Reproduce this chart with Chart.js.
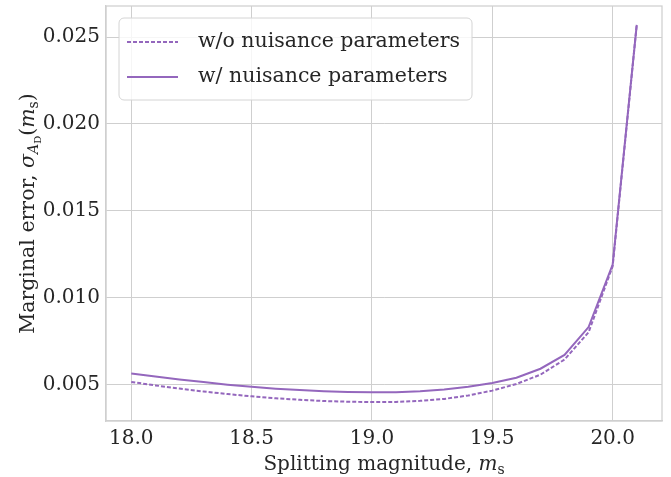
<!DOCTYPE html>
<html>
<head>
<meta charset="utf-8">
<script src="https://cdn.jsdelivr.net/npm/chart.js@4"></script>
<style>
  html, body { margin: 0; padding: 0; background: #fff; }
</style>
</head>
<body>
<canvas id="chart" width="671" height="477"></canvas>
<script>
// splitting magnitude m_s
const magnitudes = [18.0, 18.1, 18.2, 18.3, 18.4, 18.5, 18.6, 18.7, 18.8, 18.9, 19.0,
                    19.1, 19.2, 19.3, 19.4, 19.5, 19.6, 19.7, 19.8, 19.9, 20.0, 20.1];
// marginal error without nuisance parameters
const errNoNuisance = [0.00514, 0.00494, 0.00476, 0.00459, 0.00444, 0.00431, 0.00420, 0.00411,
                       0.00404, 0.00400, 0.00398, 0.00399, 0.00405, 0.00416, 0.00436, 0.00464,
                       0.00502, 0.00556, 0.00643, 0.00800, 0.01180, 0.02570];
// marginal error with nuisance parameters
const errNuisance = [0.00563, 0.00545, 0.00528, 0.00513, 0.00498, 0.00486, 0.00475, 0.00467,
                     0.00460, 0.00456, 0.00454, 0.00455, 0.00461, 0.00471, 0.00486, 0.00508,
                     0.00538, 0.00590, 0.00670, 0.00830, 0.01190, 0.02570];
const xTicks = [18.0, 18.5, 19.0, 19.5, 20.0];
const yTicks = [0.005, 0.010, 0.015, 0.020, 0.025];

const purple = '#9467bd';
const gridColor = '#cfcfcf';
const textColor = '#262626';
const serif = '"DejaVu Serif", "Liberation Serif", serif';

function drawRich(ctx, parts, x, y) {
  // parts: [text, size, italic, dy]
  let total = 0;
  parts.forEach(p => {
    ctx.font = (p[2] ? 'italic ' : '') + p[1] + 'px ' + serif;
    total += ctx.measureText(p[0]).width;
  });
  let cx = x - total / 2;
  parts.forEach(p => {
    ctx.font = (p[2] ? 'italic ' : '') + p[1] + 'px ' + serif;
    ctx.fillText(p[0], cx, y + p[3]);
    cx += ctx.measureText(p[0]).width;
  });
}

const decorPlugin = {
  id: 'decor',
  beforeDatasetsDraw(chart) {
    // frame around the plot
    const a = chart.chartArea;
    const ctx = chart.ctx;
    ctx.save();
    ctx.strokeStyle = gridColor;
    ctx.lineWidth = 1.25;
    ctx.strokeRect(a.left, a.top, a.right - a.left, a.bottom - a.top);
    ctx.restore();
  },
  afterDraw(chart) {
    const ctx = chart.ctx;
    const area = chart.chartArea;
    ctx.save();
    ctx.fillStyle = textColor;
    ctx.textBaseline = 'alphabetic';
    ctx.textAlign = 'left';

    // x axis title
    drawRich(ctx, [
      ['Splitting magnitude, ', 20, false, 0],
      ['m', 20, true, 0],
      ['s', 14, false, 4]
    ], (area.left + area.right) / 2, 470);

    // y axis title
    ctx.save();
    ctx.translate(34, (area.top + area.bottom) / 2);
    ctx.rotate(-Math.PI / 2);
    drawRich(ctx, [
      ['Marginal error, ', 20.5, false, 0],
      ['σ', 20.5, true, 0],
      ['A', 14, true, 4],
      ['D', 10, false, 7],
      ['(', 20.5, false, 0],
      ['m', 20.5, true, 0],
      ['s', 14, false, 4],
      [')', 20.5, false, 0]
    ], 0, 0);
    ctx.restore();

    // legend box
    const bx = 119, by = 18, bw = 353, bh = 82, r = 5;
    ctx.beginPath();
    ctx.moveTo(bx + r, by);
    ctx.arcTo(bx + bw, by, bx + bw, by + bh, r);
    ctx.arcTo(bx + bw, by + bh, bx, by + bh, r);
    ctx.arcTo(bx, by + bh, bx, by, r);
    ctx.arcTo(bx, by, bx + bw, by, r);
    ctx.closePath();
    ctx.fillStyle = 'rgba(255,255,255,0.8)';
    ctx.fill();
    ctx.strokeStyle = '#d4d4d4';
    ctx.lineWidth = 1;
    ctx.stroke();

    const rows = [42, 77];
    chart.data.datasets.forEach((ds, i) => {
      const ly = rows[i];
      ctx.beginPath();
      ctx.setLineDash(ds.borderDash || []);
      ctx.strokeStyle = ds.borderColor;
      ctx.lineWidth = ds.borderWidth;
      ctx.moveTo(127, ly);
      ctx.lineTo(178, ly);
      ctx.stroke();
      ctx.setLineDash([]);
      ctx.fillStyle = textColor;
      ctx.font = '20.5px ' + serif;
      ctx.textBaseline = 'middle';
      ctx.fillText(ds.label, 198, ly);
    });
    ctx.restore();
  }
};

new Chart(document.getElementById('chart'), {
  type: 'line',
  data: {
    datasets: [
      {
        label: 'w/o nuisance parameters',
        data: magnitudes.map((m, i) => ({ x: m, y: errNoNuisance[i] })),
        borderColor: purple,
        borderWidth: 2,
        borderDash: [4, 2],
        pointRadius: 0,
        fill: false
      },
      {
        label: 'w/ nuisance parameters',
        data: magnitudes.map((m, i) => ({ x: m, y: errNuisance[i] })),
        borderColor: purple,
        borderWidth: 2,
        pointRadius: 0,
        fill: false
      }
    ]
  },
  options: {
    responsive: false,
    animation: false,
    layout: { padding: { left: 0, right: 9, top: 6, bottom: 0 } },
    plugins: { legend: { display: false }, tooltip: { enabled: false } },
    scales: {
      x: {
        type: 'linear',
        min: 17.895,
        max: 20.205,
        afterBuildTicks: scale => { scale.ticks = xTicks.map(v => ({ value: v })); },
        afterFit: scale => { scale.height = 56; scale.paddingLeft = 0; scale.paddingRight = 0; },
        ticks: {
          callback: v => v.toFixed(1),
          font: { family: serif, size: 20 },
          color: textColor,
          padding: 6,
          maxRotation: 0
        },
        grid: { color: gridColor, lineWidth: 1, drawTicks: false },
        border: { color: gridColor, width: 1.25 }
      },
      y: {
        min: 0.00289,
        max: 0.02679,
        afterBuildTicks: scale => { scale.ticks = yTicks.map(v => ({ value: v })); },
        afterFit: scale => { scale.width = 106; scale.paddingTop = 0; scale.paddingBottom = 0; },
        ticks: {
          callback: v => v.toFixed(3),
          font: { family: serif, size: 20 },
          color: textColor,
          padding: 6
        },
        grid: { color: gridColor, lineWidth: 1, drawTicks: false },
        border: { color: gridColor, width: 1.25 }
      }
    }
  },
  plugins: [decorPlugin]
});
</script>
</body>
</html>
